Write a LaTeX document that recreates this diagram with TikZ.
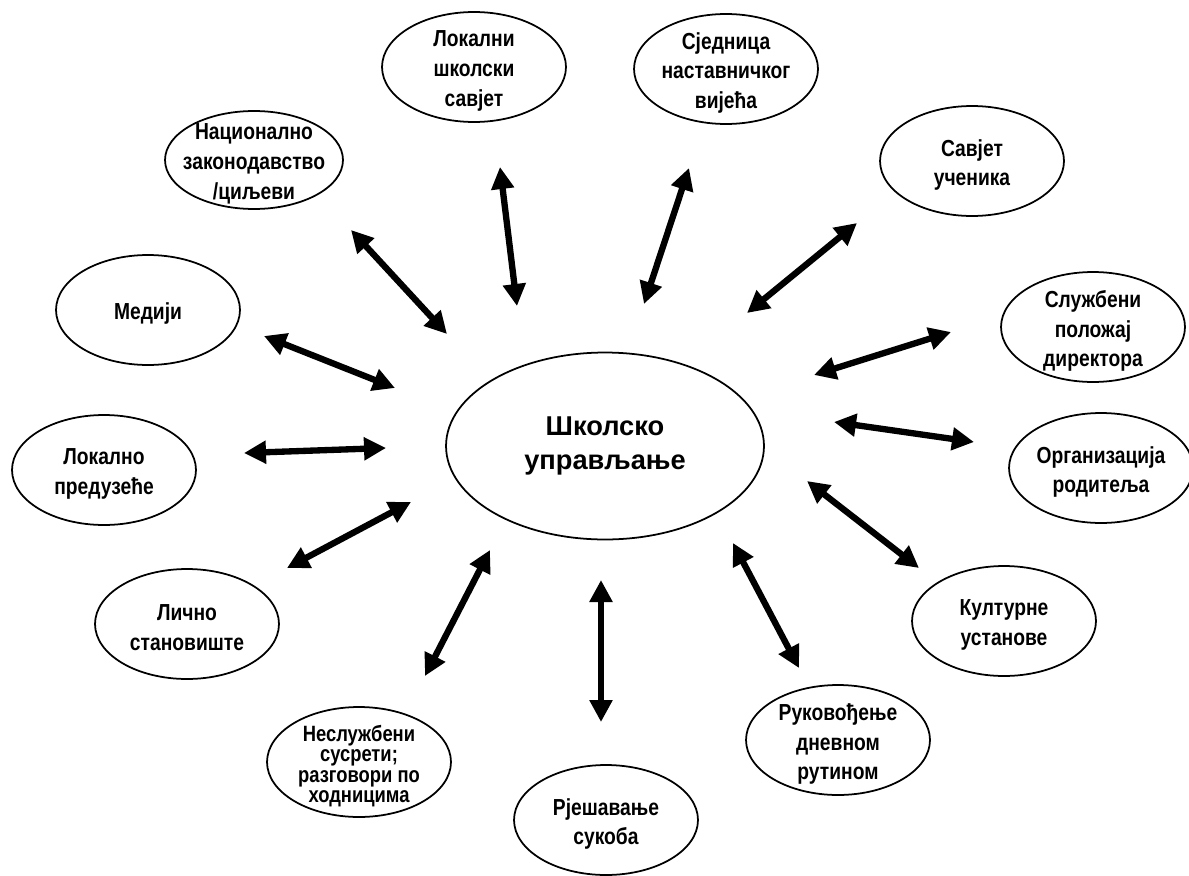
\documentclass[tikz,border=0pt]{standalone}
\usepackage{fontspec}
\setmainfont{Liberation Sans}
\newfontfamily\narrowsf{Liberation Sans}[FakeStretch=0.83]
\usetikzlibrary{shapes.geometric,arrows.meta}

\begin{document}
\begin{tikzpicture}[x=0.02cm, y=-0.02cm,
	part/.style={shape=ellipse, draw=black, line width=1pt, minimum width=3.68cm, minimum height=2.2cm, inner sep=0pt},
	txt/.style={align=center, yshift=-0.08cm, font=\narrowsf\bfseries\fontsize{13.2}{17}\selectfont},
	tight/.style={align=center, yshift=-0.08cm, font=\narrowsf\bfseries\fontsize{12.6}{11.5}\selectfont},
	link/.style={{Triangle[length=0.44cm,width=0.44cm]}-{Triangle[length=0.44cm,width=0.44cm]}, line width=3.6pt}]

	\useasboundingbox (0,0) rectangle (1189,875);

	% centre
	\node[part, minimum width=6.36cm, minimum height=3.74cm, align=center, font=\bfseries\fontsize{15.5}{19.5}\selectfont] (skola) at (605,446) {Школско\\управљање};

	% outer ring
	\node[part, label={[txt]center:{Локални\\школски\\савјет}}]                   (lokalni)   at (474,67)   {};
	\node[part, label={[txt]center:{Сједница\\наставничког\\вијећа}}]             (sjednica)  at (726,69)   {};
	\node[part, minimum width=3.56cm, minimum height=1.96cm, label={[txt]center:{Национално\\законодавство\\/циљеви}}] (nacionalno) at (254,160) {};
	\node[part, label={[txt]center:{Савјет\\ученика}}]                            (savjet)    at (972,161)  {};
	\node[part, label={[txt]center:Медији}]                                        (mediji)    at (148,310)  {};
	\node[part, label={[txt]center:{Службени\\положај\\директора}}]               (sluzbeni)  at (1093,327) {};
	\node[part, label={[txt]center:{Локално\\предузеће}}]                         (preduzece) at (104,470)  {};
	\node[part, label={[txt]center:{Организација\\родитеља}}]                     (roditelji) at (1101,468) {};
	\node[part, label={[txt]center:{Лично\\становиште}}]                          (licno)     at (187,624)  {};
	\node[part, label={[txt]center:{Културне\\установе}}]                         (kultura)   at (1004,621) {};
	\node[part, label={[tight]center:{Неслужбени\\сусрети;\\разговори по\\ходницима}}] (susreti) at (359,762) {};
	\node[part, label={[txt]center:{Рјешавање\\сукоба}}]                          (sukob)     at (606,820)  {};
	\node[part, label={[txt]center:{Руковођење\\дневном\\рутином}}]               (rutina)    at (838,740)  {};

	% arrow ends
	\coordinate (nacA) at (351,230);  \coordinate (nacB) at (447,334);
	\coordinate (lokA) at (500,167);  \coordinate (lokB) at (517,306);
	\coordinate (sjeA) at (689,168);  \coordinate (sjeB) at (644,304);
	\coordinate (savA) at (857,223);  \coordinate (savB) at (747,313);
	\coordinate (medA) at (264,336);  \coordinate (medB) at (395,388);
	\coordinate (sluA) at (951,332);  \coordinate (sluB) at (814,375);
	\coordinate (preA) at (244,453);  \coordinate (preB) at (386,448);
	\coordinate (rodA) at (834,422);  \coordinate (rodB) at (974,442);
	\coordinate (licA) at (287,568);  \coordinate (licB) at (411,502);
	\coordinate (kulA) at (807,481);  \coordinate (kulB) at (919,568);
	\coordinate (susA) at (425,676);  \coordinate (susB) at (490,550);
	\coordinate (sukA) at (601,580);  \coordinate (sukB) at (601,722);
	\coordinate (rutA) at (733,543);  \coordinate (rutB) at (799,668);

	\draw[link] (nacA) -- (nacB);
	\draw[link] (lokA) -- (lokB);
	\draw[link] (sjeA) -- (sjeB);
	\draw[link] (savA) -- (savB);
	\draw[link] (medA) -- (medB);
	\draw[link] (sluA) -- (sluB);
	\draw[link] (preA) -- (preB);
	\draw[link] (rodA) -- (rodB);
	\draw[link] (licA) -- (licB);
	\draw[link] (kulA) -- (kulB);
	\draw[link] (susA) -- (susB);
	\draw[link] (sukA) -- (sukB);
	\draw[link] (rutA) -- (rutB);

\end{tikzpicture}
\end{document}
